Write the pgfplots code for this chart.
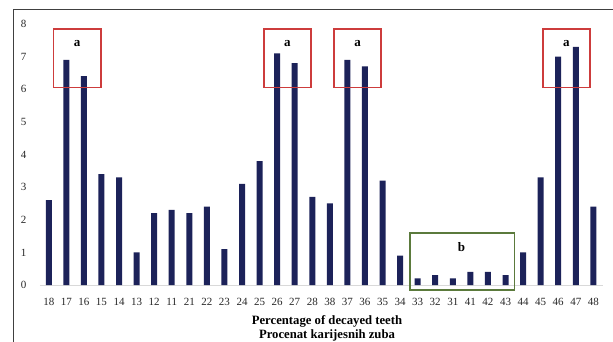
\documentclass[border=0pt]{standalone}
\usepackage{fontspec}
\setmainfont{Liberation Serif}
\usepackage{pgfplots}
\pgfplotsset{compat=1.18}
\definecolor{barblue}{HTML}{1C2259}
\definecolor{boxred}{RGB}{205,60,60}
\definecolor{boxgreen}{HTML}{5B7A3C}
\definecolor{framegray}{HTML}{404040}
\begin{document}
\begin{tikzpicture}[x=1pt,y=1pt]
\path[use as bounding box] (0,0) rectangle (613,341);
\begin{axis}[at={(40pt,56pt)}, anchor=south west, scale only axis,
  width=563pt, height=261pt,
  xmin=-0.5, xmax=31.55, ymin=0, ymax=8,
  axis x line*=bottom, axis y line*=left,
  y axis line style={draw=none},
  x axis line style={draw=black!15, line width=0.8pt},
  major tick length=0pt,
  xtick={0,...,31},
  xticklabels={18,17,16,15,14,13,12,11,21,22,23,24,25,26,27,28,38,37,36,35,34,33,32,31,41,42,43,44,45,46,47,48},
  ytick={0,...,8},
  /pgf/number format/assume math mode=true,
  tick label style={font=\fontsize{11}{13}\selectfont, text=black!85},
  yticklabel style={xshift=-10pt},
  xticklabel style={yshift=-10pt},
  xlabel={Percentage of decayed teeth\\Procenat karijesnih zuba},
  xlabel style={font=\fontsize{12.7}{13.3}\selectfont\bfseries, align=center, yshift=-3pt, xshift=5.5pt},
  clip=false]
\addplot[ybar, bar width=6pt, fill=barblue, draw=none] coordinates {
(0,2.6)(1,6.9)(2,6.4)(3,3.4)(4,3.3)(5,1.0)(6,2.2)(7,2.3)(8,2.2)(9,2.4)(10,1.1)(11,3.1)(12,3.8)(13,7.1)(14,6.8)(15,2.7)(16,2.5)(17,6.9)(18,6.7)(19,3.2)(20,0.9)(21,0.2)(22,0.3)(23,0.2)(24,0.4)(25,0.4)(26,0.3)(27,1.0)(28,3.3)(29,7.0)(30,7.3)(31,2.4)};
\draw[boxred, line width=1.5pt] (axis cs:0.28,6.05) rectangle (axis cs:2.96,7.84);
\draw[boxred, line width=1.5pt] (axis cs:12.24,6.05) rectangle (axis cs:14.93,7.84);
\draw[boxred, line width=1.5pt] (axis cs:16.24,6.05) rectangle (axis cs:18.92,7.84);
\draw[boxred, line width=1.5pt] (axis cs:28.13,6.05) rectangle (axis cs:30.8,7.84);
\draw[boxgreen, line width=1.5pt] (axis cs:20.57,-0.15) rectangle (axis cs:26.5,1.6);
\node[font=\fontsize{13}{14}\selectfont\bfseries] at (axis cs:1.62,7.39) {a};
\node[font=\fontsize{13}{14}\selectfont\bfseries] at (axis cs:13.58,7.39) {a};
\node[font=\fontsize{13}{14}\selectfont\bfseries] at (axis cs:17.58,7.39) {a};
\node[font=\fontsize{13}{14}\selectfont\bfseries] at (axis cs:29.46,7.39) {a};
\node[font=\fontsize{13}{14}\selectfont\bfseries] at (axis cs:23.5,1.16) {b};
\end{axis}
\draw[draw=framegray, line width=1pt] (613,331) -- (13,331) -- (13,-5);
\end{tikzpicture}
\end{document}
